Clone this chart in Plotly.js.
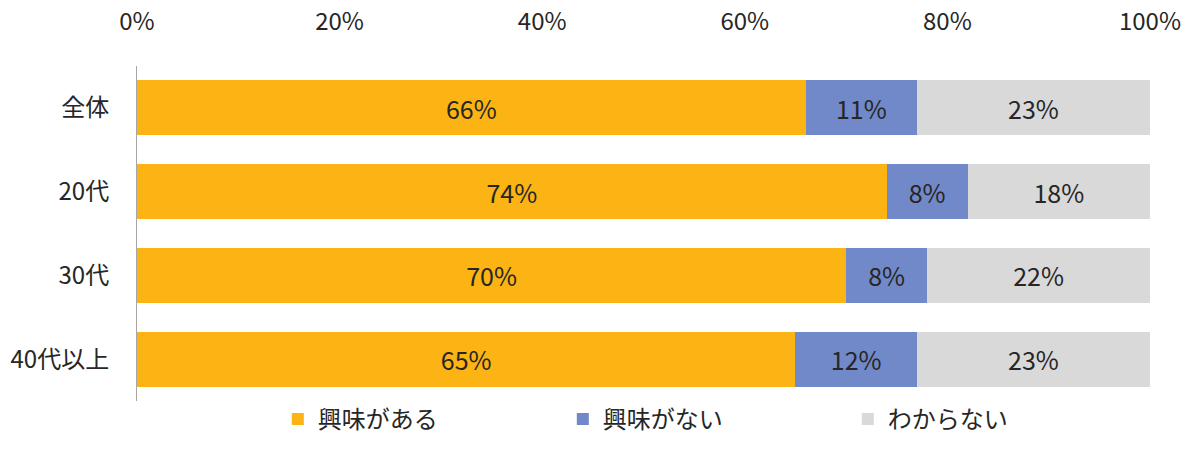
<!DOCTYPE html>
<html>
<head>
<meta charset="utf-8">
<script src="https://cdn.plot.ly/plotly-3.0.1.min.js"></script>
<style>
  html, body { margin: 0; padding: 0; background: #fff; }
  #chart { width: 1198px; height: 459px; }
</style>
</head>
<body>
<div id="chart"></div>
<script>
// Age groups, top to bottom
const categories = ['全体', '20代', '30代', '40代以上'];

// Share of respondents per answer (percent)
const interested = [66, 74, 70, 65];
const notInterested = [11, 8, 8, 12];
const unknown = [23, 18, 22, 23];

const seriesNames = ['興味がある', '興味がない', 'わからない'];
const seriesColors = ['#FBB413', '#7189C8', '#D9D9D9'];
const seriesValues = [interested, notInterested, unknown];

const FONT = '"Noto Sans CJK JP", "Noto Sans", sans-serif';
const TEXT = '#262626';

const traces = seriesValues.map((vals, i) => ({
  type: 'bar',
  orientation: 'h',
  name: seriesNames[i],
  y: categories,
  x: vals.map(v => v / 100),
  text: vals.map(v => v + '%'),
  textposition: 'inside',
  insidetextanchor: 'middle',
  textangle: 0,
  constraintext: 'none',
  textfont: { family: FONT, size: 25, color: TEXT },
  marker: { color: seriesColors[i], line: { width: 0 } },
  hoverinfo: 'skip'
}));

const layout = {
  width: 1198,
  height: 459,
  margin: { l: 137, r: 48, t: 66, b: 58 },
  paper_bgcolor: '#ffffff',
  plot_bgcolor: '#ffffff',
  barmode: 'stack',
  bargap: 0.345,
  font: { family: FONT, size: 24, color: TEXT },
  showlegend: true,
  legend: {
    orientation: 'h',
    x: 0.139,
    xanchor: 'left',
    y: 0.012,
    yanchor: 'top',
    traceorder: 'normal',
    entrywidth: 240,
    itemwidth: 30,
    font: { family: FONT, size: 24, color: TEXT }
  },
  xaxis: {
    side: 'top',
    range: [0, 1],
    tickvals: [0, 0.2, 0.4, 0.6, 0.8, 1],
    tickformat: '.0%',
    showgrid: false,
    zeroline: false,
    showline: false,
    ticks: 'outside',
    ticklen: 25,
    tickcolor: 'rgba(0,0,0,0)',
    tickfont: { family: FONT, size: 24, color: TEXT },
    fixedrange: true
  },
  yaxis: {
    autorange: 'reversed',
    categoryorder: 'array',
    categoryarray: categories,
    showgrid: false,
    zeroline: false,
    showline: true,
    linecolor: '#A6A6A6',
    linewidth: 1,
    ticks: 'outside',
    ticklen: 22,
    tickcolor: 'rgba(0,0,0,0)',
    tickfont: { family: FONT, size: 24, color: TEXT },
    fixedrange: true
  }
};

Plotly.newPlot('chart', traces, layout, { displayModeBar: false, staticPlot: true });
</script>
</body>
</html>
